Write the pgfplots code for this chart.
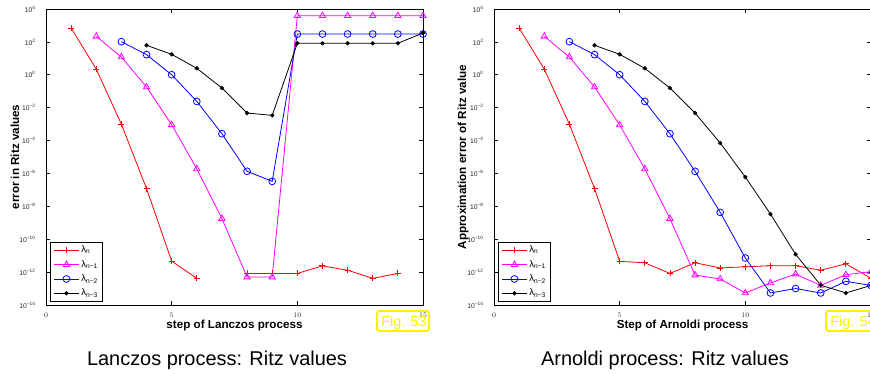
\documentclass[border=0pt]{standalone}
\usepackage{pgfplots}
\pgfplotsset{compat=1.18}
\usepackage{fontspec}
\setmainfont{Liberation Sans}
\definecolor{figyellow}{RGB}{255,240,0}
\definecolor{mred}{RGB}{255,0,0}
\definecolor{mmag}{RGB}{255,0,255}
\definecolor{mblue}{RGB}{0,0,255}
\pgfplotsset{every axis/.append style={
    tick align=inside, major tick length=4bp,
    axis line style={line width=0.9bp},
    every tick/.style={black, line width=0.7bp},
    tick label style={font=\fontsize{6.8}{7.5}\selectfont, text=black!85},
    xticklabel style={yshift=-4.5bp},
    yticklabel style={xshift=-7bp},
    legend cell align=left,
    legend style={at={(axis description cs:0,0)}, anchor=south west, xshift=4bp, yshift=3bp,
      font=\fontsize{9.5}{10}\selectfont, draw=black, line width=1.1bp, fill=white,
      inner xsep=3bp, inner ysep=2bp, row sep=2bp},
    legend image code/.code={\draw[mark repeat=2,mark phase=2] plot coordinates {(0bp,0bp) (12.5bp,0bp) (25bp,0bp)};},
  },
  every axis x label/.style={at={(axis description cs:0.5,-0.0676)}, anchor=center, font=\fontsize{11.7}{13}\bfseries\selectfont},
  every axis y label/.style={at={(axis description cs:-0.0822,0.5)}, anchor=center, rotate=90, font=\fontsize{11.7}{13}\bfseries\selectfont},
}
\begin{document}
\begin{tikzpicture}
\begin{axis}[at={(46bp,69bp)}, anchor=south west,
    scale only axis, width=377bp, height=296bp,
    xmin=0, xmax=15, ymin=1e-14, ymax=1e4, ymode=log,
    xtick={0,5,10,15},
    ytick={1e-14,1e-12,1e-10,1e-8,1e-6,1e-4,1e-2,1,1e2,1e4},
    yticklabels={10\textsuperscript{−14},10\textsuperscript{−12},10\textsuperscript{−10},10\textsuperscript{−8},10\textsuperscript{−6},10\textsuperscript{−4},10\textsuperscript{−2},10\textsuperscript{0},10\textsuperscript{2},10\textsuperscript{4}},
    minor ytick={},
    unbounded coords=jump,
    xlabel={step of Lanczos process}, ylabel={error in Ritz values}]
\addplot[mred, line width=0.8bp, mark=+, mark size=3bp, mark options={solid}] coordinates {(1,700) (2,2.2) (3,9.8e-4) (4,1.2e-7) (5,4.7e-12) (6,4.2e-13) (7,nan) (8,8.3e-13) (9,8.3e-13) (10,8.3e-13) (11,2.4e-12) (12,1.3e-12) (13,4.2e-13) (14,8.3e-13)};
\addlegendentry{λ\textsubscript{n}}
\addplot[mmag, line width=0.8bp, mark=triangle, mark size=3.6bp, mark options={solid}] coordinates {(2,218) (3,12) (4,0.18) (5,9.2e-4) (6,1.9e-6) (7,1.8e-9) (8,5e-13) (9,5e-13) (10,3.9e3) (11,3.9e3) (12,3.9e3) (13,3.9e3) (14,3.9e3) (15,3.9e3)};
\addlegendentry{λ\textsubscript{n−1}}
\addplot[mblue, line width=0.8bp, mark=o, mark size=3.4bp, mark options={solid}] coordinates {(3,103) (4,16.7) (5,1.0) (6,0.024) (7,2.6e-4) (8,1.35e-6) (9,3.3e-7) (10,300) (11,300) (12,300) (13,300) (14,300) (15,300)};
\addlegendentry{λ\textsubscript{n−2}}
\addplot[black, line width=0.8bp, mark=*, mark size=1.7bp, mark options={solid}] coordinates {(4,62) (5,17.5) (6,2.47) (7,0.157) (8,4.7e-3) (9,3.4e-3) (10,82) (11,82) (12,82) (13,82) (14,82) (15,347)};
\addlegendentry{λ\textsubscript{n−3}}
\end{axis}
\begin{axis}[at={(494bp,69bp)}, anchor=south west,
    scale only axis, width=377bp, height=296bp,
    xmin=0, xmax=15, ymin=1e-14, ymax=1e4, ymode=log,
    xtick={0,5,10,15},
    ytick={1e-14,1e-12,1e-10,1e-8,1e-6,1e-4,1e-2,1,1e2,1e4},
    yticklabels={10\textsuperscript{−14},10\textsuperscript{−12},10\textsuperscript{−10},10\textsuperscript{−8},10\textsuperscript{−6},10\textsuperscript{−4},10\textsuperscript{−2},10\textsuperscript{0},10\textsuperscript{2},10\textsuperscript{4}},
    minor ytick={},
    xlabel={Step of Arnoldi process}, ylabel={Approximation error of Ritz value}]
\addplot[mred, line width=0.8bp, mark=+, mark size=3bp, mark options={solid}] coordinates {(1,700) (2,2.2) (3,9.8e-4) (4,1.2e-7) (5,4.5e-12) (6,3.7e-12) (7,8.3e-13) (8,3.7e-12) (9,1.8e-12) (10,2.1e-12) (11,2.45e-12) (12,2.45e-12) (13,1.3e-12) (14,3.2e-12) (15,4.2e-13)};
\addlegendentry{λ\textsubscript{n}}
\addplot[mmag, line width=0.8bp, mark=triangle, mark size=3.6bp, mark options={solid}] coordinates {(2,218) (3,12) (4,0.18) (5,8.9e-4) (6,1.9e-6) (7,1.8e-9) (8,6.6e-13) (9,3.8e-13) (10,5.4e-14) (11,2.2e-13) (12,7.6e-13) (13,1.55e-13) (14,6.9e-13) (15,1.07e-12)};
\addlegendentry{λ\textsubscript{n−1}}
\addplot[mblue, line width=0.8bp, mark=o, mark size=3.4bp, mark options={solid}] coordinates {(3,103) (4,16.7) (5,1.0) (6,0.024) (7,2.6e-4) (8,1.35e-6) (9,4.3e-9) (10,7.2e-12) (11,5.4e-14) (12,1.0e-13) (13,5.4e-14) (14,2.75e-13) (15,1.55e-13)};
\addlegendentry{λ\textsubscript{n−2}}
\addplot[black, line width=0.8bp, mark=*, mark size=1.7bp, mark options={solid}] coordinates {(4,62) (5,17.5) (6,2.47) (7,0.157) (8,4.7e-3) (9,7.1e-5) (10,6.0e-7) (11,3.4e-9) (12,1.2e-11) (13,1.6e-13) (14,5.4e-14) (15,1.55e-13)};
\addlegendentry{λ\textsubscript{n−3}}
\end{axis}
% figure tags
\draw[figyellow, line width=2bp, rounded corners=2.5bp] (377bp,43bp) rectangle (429bp,63bp);
\node[text=figyellow, font=\fontsize{14.5}{16}\selectfont, anchor=base] at (404bp,47.5bp) {Fig. 53};
\draw[figyellow, line width=2bp, rounded corners=2.5bp] (826bp,43bp) rectangle (878bp,63bp);
\node[text=figyellow, font=\fontsize{14.5}{16}\selectfont, anchor=base] at (853bp,47.5bp) {Fig. 54};
% captions
\node[font=\fontsize{20}{22}\selectfont, anchor=base] at (217bp,8.3bp) {Lanczos process: Ritz values};
\node[font=\fontsize{20}{22}\selectfont, anchor=base] at (665bp,8.3bp) {Arnoldi process: Ritz values};
\pgfresetboundingbox
\useasboundingbox (0bp,0bp) rectangle (870bp,374bp);
\end{tikzpicture}
\end{document}
